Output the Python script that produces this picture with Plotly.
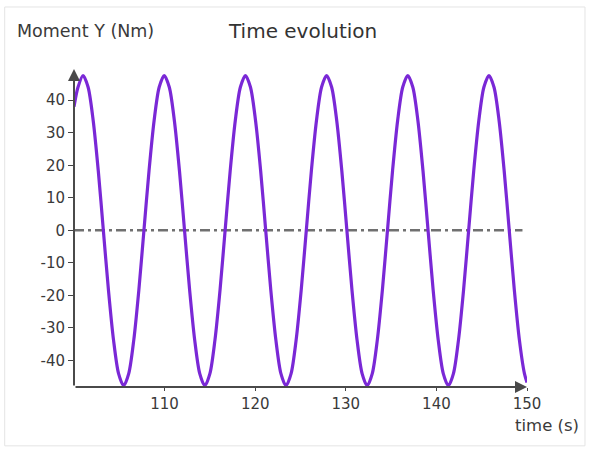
import plotly.graph_objects as go

time_s = [100.0, 100.44,
          101.00, 101.56, 102.12, 102.68, 103.24, 103.80, 104.36, 104.92,
          105.48, 106.04, 106.60, 107.16, 107.72, 108.28, 108.84, 109.40,
          109.96, 110.52, 111.08, 111.64, 112.20, 112.76, 113.32, 113.88,
          114.44, 115.00, 115.56, 116.12, 116.68, 117.24, 117.80, 118.36,
          118.92, 119.48, 120.04, 120.60, 121.16, 121.72, 122.28, 122.84,
          123.40, 123.96, 124.52, 125.08, 125.64, 126.20, 126.76, 127.32,
          127.88, 128.44, 129.00, 129.56, 130.12, 130.68, 131.24, 131.80,
          132.36, 132.92, 133.48, 134.04, 134.60, 135.16, 135.72, 136.28,
          136.84, 137.40, 137.96, 138.52, 139.08, 139.64, 140.20, 140.76,
          141.32, 141.88, 142.44, 143.00, 143.56, 144.12, 144.68, 145.24,
          145.80, 146.36, 146.92, 147.48, 148.04, 148.60, 149.16, 149.72,
          150.0]
moment_y = [38.0, 44.0,
            47.6, 44.0, 33.7, 18.3, 0.0, -18.3, -33.7, -44.1,
            -47.8, -44.1, -33.7, -18.3, 0.0, 18.3, 33.7, 44.0,
            47.6, 44.0, 33.7, 18.3, 0.0, -18.3, -33.7, -44.1,
            -47.8, -44.1, -33.7, -18.3, 0.0, 18.3, 33.7, 44.0,
            47.6, 44.0, 33.7, 18.3, 0.0, -18.3, -33.7, -44.1,
            -47.8, -44.1, -33.7, -18.3, 0.0, 18.3, 33.7, 44.0,
            47.6, 44.0, 33.7, 18.3, 0.0, -18.3, -33.7, -44.1,
            -47.8, -44.1, -33.7, -18.3, 0.0, 18.3, 33.7, 44.0,
            47.6, 44.0, 33.7, 18.3, 0.0, -18.3, -33.7, -44.1,
            -47.8, -44.1, -33.7, -18.3, 0.0, 18.3, 33.7, 44.0,
            47.6, 44.0, 33.7, 18.3, 0.0, -18.3, -33.7, -44.1,
            -46.8]

x_ticks = [110, 120, 130, 140, 150]
x_tick_labels = ["110", "120", "130", "140", "150"]
y_ticks = [-40, -30, -20, -10, 0, 10, 20, 30, 40]
y_tick_labels = ["-40", "-30", "-20", "-10", "0", "10", "20", "30", "40"]

X_MIN, X_MAX = 100, 150
Y_MIN, Y_MAX = -48.2, 49.6
ZERO_END = 149.5

FONT = "DejaVu Sans, Verdana, sans-serif"

fig = go.Figure()
fig.add_trace(go.Scatter(x=[X_MIN, ZERO_END], y=[0, 0], mode="lines",
                         line=dict(color="#707070", width=2.5, dash="10px,4px,3px,4px"),
                         hoverinfo="skip", showlegend=False))
fig.add_trace(go.Scatter(x=time_s, y=moment_y, mode="lines",
                         line=dict(color="#7a28d6", width=3.2, shape="spline", smoothing=0.8),
                         showlegend=False, cliponaxis=False))

font_tick = dict(family=FONT, size=15, color="#3a3a3a")

fig.update_layout(
    width=589, height=452,
    margin=dict(l=73.5, r=62, t=69, b=65),
    paper_bgcolor="white", plot_bgcolor="white",
    xaxis=dict(range=[X_MIN, X_MAX], tickvals=x_ticks, ticktext=x_tick_labels,
               ticks="outside", ticklen=3,
               tickcolor="#444", showgrid=False, zeroline=False, showline=False,
               tickfont=font_tick),
    yaxis=dict(range=[Y_MIN, Y_MAX], tickvals=y_ticks, ticktext=y_tick_labels,
               ticks="outside", ticklen=5,
               tickcolor="#444", showgrid=False, zeroline=False, showline=False,
               tickfont=font_tick, ticklabelstandoff=0),
    annotations=[
        dict(x=X_MIN, y=Y_MAX, ax=X_MIN, ay=Y_MIN, xref="x", yref="y", axref="x", ayref="y",
             showarrow=True, arrowhead=2, arrowsize=1.2, arrowwidth=2, arrowcolor="#4a4a4a", text=""),
        dict(x=X_MAX, y=Y_MIN, ax=X_MIN, ay=Y_MIN, xref="x", yref="y", axref="x", ayref="y",
             showarrow=True, arrowhead=2, arrowsize=1.2, arrowwidth=2, arrowcolor="#4a4a4a", text=""),
        dict(text="Moment Y (Nm)", xref="paper", yref="paper", x=-0.131, y=1.12,
             xanchor="left", yanchor="middle", showarrow=False,
             font=dict(family=FONT, size=17.5, color="#3a3a3a")),
        dict(text="Time evolution", xref="paper", yref="paper", x=0.504, y=1.12,
             xanchor="center", yanchor="middle", showarrow=False,
             font=dict(family=FONT, size=20, color="#333")),
        dict(text="time (s)", xref="paper", yref="paper", x=0.97, y=-0.12,
             xanchor="left", yanchor="middle", showarrow=False,
             font=dict(family=FONT, size=16.5, color="#3a3a3a")),
    ],
    shapes=[
        dict(type="rect", xref="paper", yref="paper", x0=-0.153, x1=1.128, y0=-0.185, y1=1.195,
             line=dict(color="#e4e4e4", width=1), fillcolor="rgba(0,0,0,0)", layer="below"),
    ],
)

fig.write_html("out.html")
